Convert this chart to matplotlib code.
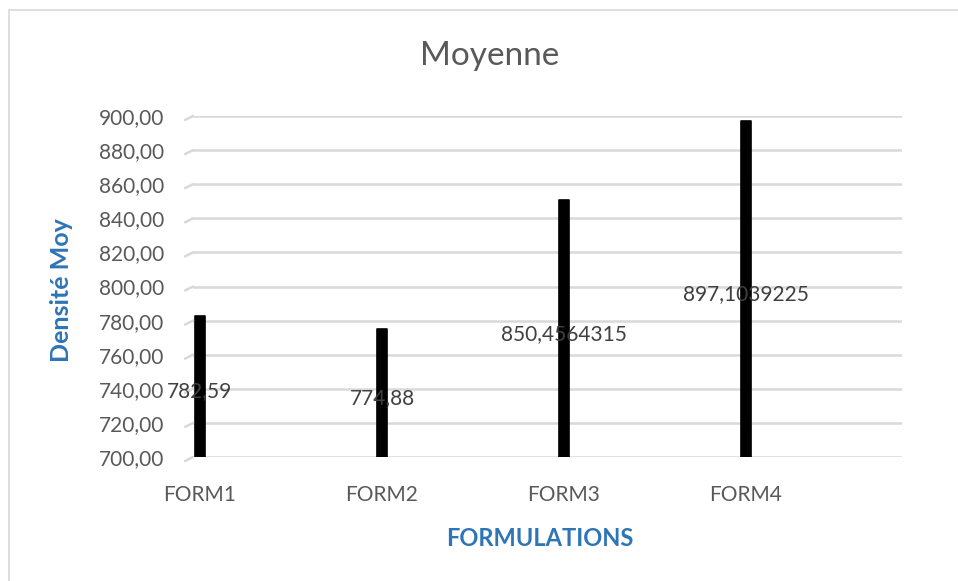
from __future__ import annotations

import matplotlib

matplotlib.use("Agg")
import matplotlib.pyplot as plt
import numpy as np
from matplotlib.patches import Rectangle


FORMULATIONS = ["FORM1", "FORM2", "FORM3", "FORM4"]
DENSITE_MOY = [782.59, 774.88, 850.4564315, 897.1039225]
VALUE_LABELS = ["782,59", "774,88", "850,4564315", "897,1039225"]
Y_TICKS = [700, 720, 740, 760, 780, 800, 820, 840, 860, 880, 900]

GRID_COLOR = "#D9D9D9"
TEXT_GRAY = "#595959"
LABEL_DARK = "#404040"
AXIS_BLUE = "#2E75B6"
FONT = ["Lato", "DejaVu Sans"]


def fr_number(value: float) -> str:
    return f"{value:.2f}".replace(".", ",")


def main() -> None:
    plt.rcParams.update({"font.family": FONT})

    fig = plt.figure(figsize=(9.58, 5.81), dpi=100)
    ax = fig.add_axes([193 / 958, 1 - 457 / 581, 709 / 958, 341 / 581])

    x = np.arange(len(FORMULATIONS))
    base = Y_TICKS[0]
    heights = [v - base for v in DENSITE_MOY]
    ax.bar(
        x,
        heights,
        bottom=base,
        width=0.052,
        color="black",
        edgecolor="black",
        linewidth=1.2,
        joinstyle="round",
        zorder=3,
    )

    ax.set_xlim(-0.038, 3.857)
    ax.set_ylim(700, 900)
    ax.set_yticks(Y_TICKS)
    ax.set_yticklabels([fr_number(t) for t in Y_TICKS])
    ax.set_xticks(x)
    ax.set_xticklabels(FORMULATIONS)
    ax.tick_params(axis="y", length=0, pad=21, labelsize=15, labelcolor=TEXT_GRAY)
    ax.tick_params(axis="x", length=0, pad=20, labelsize=15, labelcolor=TEXT_GRAY)

    for spine in ax.spines.values():
        spine.set_visible(False)
    ax.yaxis.grid(True, color=GRID_COLOR, linewidth=1.8, zorder=0)
    ax.set_axisbelow(True)

    # short slanted stubs at the left end of each gridline (depth of the floor)
    for t in Y_TICKS:
        ax.annotate(
            "",
            xy=(-0.038, t),
            xytext=(-8, -4),
            textcoords="offset pixels",
            arrowprops=dict(arrowstyle="-", color=GRID_COLOR, lw=1.8, shrinkA=0, shrinkB=0),
        )

    # value labels sit around the middle of each bar
    for xi, v, label in zip(x, DENSITE_MOY, VALUE_LABELS):
        ax.annotate(
            label,
            xy=(xi, base + (v - base) / 2),
            xytext=(0, -5),
            textcoords="offset pixels",
            ha="center",
            va="center",
            fontsize=15,
            color=LABEL_DARK,
            zorder=4,
        )

    ax.set_xlabel("FORMULATIONS", fontsize=17, fontweight="bold", color=AXIS_BLUE)
    ax.xaxis.set_label_coords(0.489, -0.205)
    ax.set_ylabel("Densité Moy", fontsize=18, fontweight="bold", color=AXIS_BLUE)
    ax.yaxis.set_label_coords(-0.169, 0.49)

    fig.text(490 / 958, 1 - 56 / 581, "Moyenne", ha="center", va="center", fontsize=24, color=TEXT_GRAY)

    # chart frame, its right and bottom edges run past the image
    fig.add_artist(
        Rectangle(
            (9 / 958, -0.1),
            1.2,
            1.1 - 10 / 581,
            transform=fig.transFigure,
            fill=False,
            edgecolor=GRID_COLOR,
            linewidth=1.2,
        )
    )

    fig.savefig("out.png", dpi=100)
    plt.close(fig)


if __name__ == "__main__":
    main()
